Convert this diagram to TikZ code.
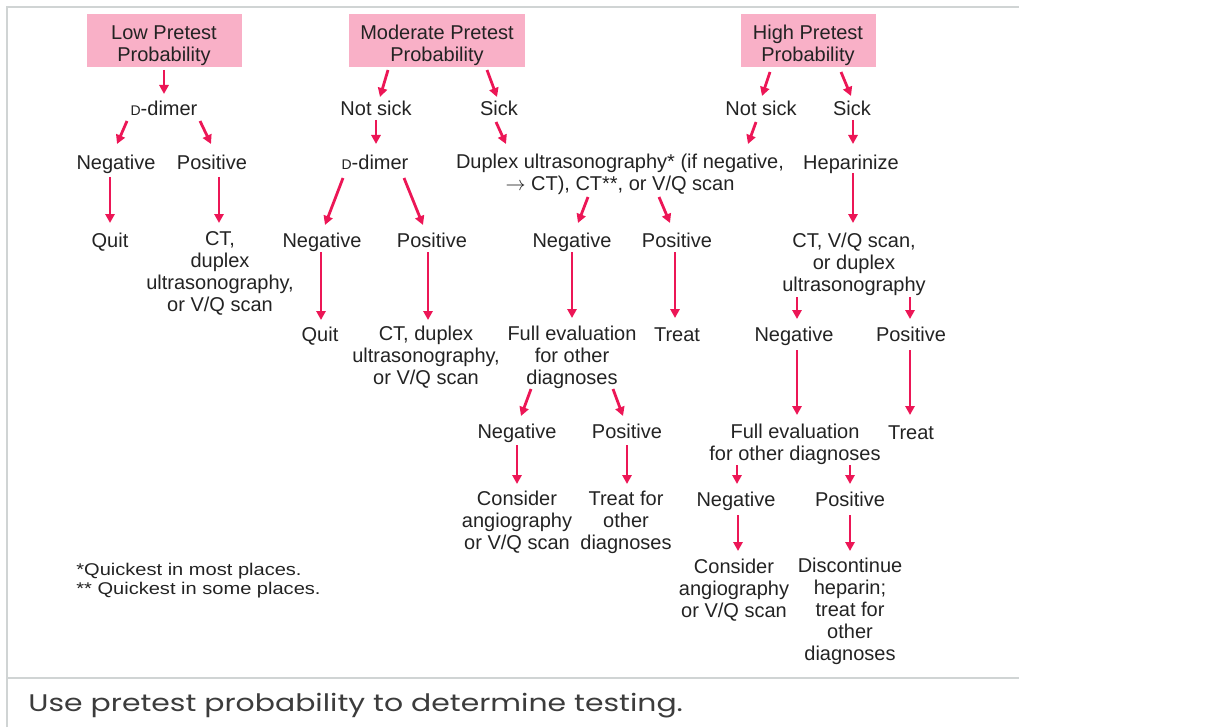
\documentclass[tikz,border=0pt]{standalone}
\usepackage{fontspec}
\setmainfont{Liberation Sans}
\newfontfamily\footfont[FakeStretch=1.18]{Liberation Sans}
\newfontfamily\capfont[FakeStretch=1.245]{Poppins}
\usepackage{tikz}
\usetikzlibrary{arrows.meta}
\usetikzlibrary{calc}
\usepackage{xcolor}
\definecolor{probpink}{RGB}{249,176,199}
\definecolor{arrred}{RGB}{236,22,86}
\definecolor{framegray}{RGB}{208,212,212}
\definecolor{txtgray}{RGB}{35,35,35}
\definecolor{capgray}{RGB}{60,60,60}
\newcommand{\smallD}{{\fontsize{7}{8}\selectfont D}}
\newcommand{\boxlift}{\rule{0pt}{11.8pt}}
\tikzset{arr/.style={line width=1.4pt, arrred, -{Triangle[length=4.5pt,width=4.6pt]}}}
\tikzset{txt/.style={align=center, inner sep=0pt, text=txtgray, font=\fontsize{10}{11}\selectfont}}
\tikzset{one/.style={txt, text height=7.2pt, text depth=0pt}}
\tikzset{prob/.style={txt, fill=probpink, minimum height=26.5pt}}

\begin{document}
\begin{tikzpicture}[x=0.5pt, y=-0.5pt]

	\useasboundingbox (0,0) rectangle (1213,727);
	\draw[framegray, line width=1pt] (7,727) -- (7,7) -- (1019,7);
	\draw[framegray, line width=1pt] (7,678) -- (1019,678);

	\node[prob, minimum width=77.5pt] (low) at (164,41) {\boxlift Low Pretest\\Probability};
	\node[prob, minimum width=88pt] (mod) at (437,41) {\boxlift Moderate Pretest\\Probability};
	\node[prob, minimum width=67.5pt] (high) at (808,41) {\boxlift High Pretest\\Probability};

	% low
	\node[one] (dd1) at (164,108) {\smallD-dimer};
	\node[one] (neg1) at (116,162) {Negative};
	\node[one] (pos1) at (212,162) {Positive};
	\node[one] (quit1) at (110,240) {Quit};
	\node[txt] (ct1) at (220,273) {CT,\\duplex\\ultrasonography,\\or V/Q scan};

	\draw[arr] ($(low)+(0,29)$) -- ($(dd1)+(0,-14)$);
	\draw[arr] ($(dd1)+(-37,13)$) -- ($(neg1)+(1,-18)$);
	\draw[arr] ($(dd1)+(36,13)$) -- ($(pos1)+(-1,-18)$);
	\draw[arr] ($(neg1)+(-6,15)$) -- ($(quit1)+(0,-17)$);
	\draw[arr] ($(pos1)+(7,15)$) -- ($(ct1)+(-1,-50)$);

	% moderate
	\node[one] (ns2) at (376,108) {Not sick};
	\node[one] (sick2) at (499,108) {Sick};
	\node[one] (dd2) at (375,162) {\smallD-dimer};
	\node[one] (neg2) at (322,240) {Negative};
	\node[one] (pos2) at (432,240) {Positive};
	\node[one] (quit2) at (320,334) {Quit};
	\node[txt] (ct2) at (426,357) {CT, duplex\\ultrasonography,\\or V/Q scan};
	\node[txt] (dup) at (620,174) {Duplex ultrasonography* (if negative,\\$\rightarrow$ CT), CT**, or V/Q scan};
	\node[one] (neg3) at (572,240) {Negative};
	\node[one] (pos3) at (677,240) {Positive};
	\node[txt] (full3) at (572,357) {Full evaluation\\for other\\diagnoses};
	\node[one] (treat3) at (677,334) {Treat};
	\node[one] (neg4) at (517,431) {Negative};
	\node[one] (pos4) at (627,431) {Positive};
	\node[txt] (cons4) at (517,522) {Consider\\angiography\\or V/Q scan};
	\node[txt] (tr4) at (626,522) {Treat for\\other\\diagnoses};

	\draw[arr] ($(mod)+(-49,29)$) -- ($(ns2)+(4,-11)$);
	\draw[arr] ($(mod)+(50,29)$) -- ($(sick2)+(-2,-11)$);
	\draw[arr] ($(ns2)+(0,12)$) -- ($(dd2)+(1,-18)$);
	\draw[arr] ($(dd2)+(-32,16)$) -- ($(neg2)+(3,-15)$);
	\draw[arr] ($(dd2)+(29,16)$) -- ($(pos2)+(-9,-15)$);
	\draw[arr] ($(neg2)+(-1,12)$) -- ($(quit2)+(1,-14)$);
	\draw[arr] ($(pos2)+(-4,12)$) -- ($(ct2)+(2,-37)$);
	\draw[arr] ($(sick2)+(-3,14)$) -- ($(dup)+(-114,-30)$);
	\draw[arr] ($(dup)+(-32,23)$) -- ($(neg3)+(6,-17)$);
	\draw[arr] ($(dup)+(39,23)$) -- ($(pos3)+(-7,-17)$);
	\draw[arr] ($(neg3)+(0,12)$) -- ($(full3)+(0,-39)$);
	\draw[arr] ($(pos3)+(-2,12)$) -- ($(treat3)+(-2,-16)$);
	\draw[arr] ($(full3)+(-41,32)$) -- ($(neg4)+(4,-15)$);
	\draw[arr] ($(full3)+(41,32)$) -- ($(pos4)+(-4,-15)$);
	\draw[arr] ($(neg4)+(0,14)$) -- ($(cons4)+(0,-38)$);
	\draw[arr] ($(pos4)+(0,14)$) -- ($(tr4)+(1,-38)$);

	% high
	\node[one] (ns5) at (761,108) {Not sick};
	\node[one] (sick5) at (852,108) {Sick};
	\node[one] (hep5) at (851,162) {Heparinize};
	\node[txt] (ct5) at (854,264) {CT, V/Q scan,\\or duplex\\ultrasonography};
	\node[one] (neg5) at (794,334) {Negative};
	\node[one] (pos5) at (911,334) {Positive};
	\node[txt] (full5) at (795,444) {Full evaluation\\for other diagnoses};
	\node[one] (treat5) at (911,432) {Treat};
	\node[one] (neg6) at (736,499) {Negative};
	\node[one] (pos6) at (850,499) {Positive};
	\node[txt] (cons6) at (734,590) {Consider\\angiography\\or V/Q scan};
	\node[txt] (disc6) at (850,611) {Discontinue\\heparin;\\treat for\\other\\diagnoses};

	\draw[arr] ($(high)+(-38,31)$) -- ($(ns5)+(1,-12)$);
	\draw[arr] ($(high)+(33,31)$) -- ($(sick5)+(-1,-12)$);
	\draw[arr] ($(ns5)+(-5,14)$) -- ($(dup)+(128,-30)$);
	\draw[arr] ($(sick5)+(1,12)$) -- ($(hep5)+(2,-18)$);
	\draw[arr] ($(hep5)+(2,11)$) -- ($(ct5)+(-1,-41)$);
	\draw[arr] ($(ct5)+(-57,33)$) -- ($(neg5)+(3,-15)$);
	\draw[arr] ($(ct5)+(56,33)$) -- ($(pos5)+(-1,-15)$);
	\draw[arr] ($(neg5)+(3,16)$) -- ($(full5)+(2,-29)$);
	\draw[arr] ($(pos5)+(-1,16)$) -- ($(treat5)+(-1,-17)$);
	\draw[arr] ($(full5)+(-58,21)$) -- ($(neg6)+(1,-15)$);
	\draw[arr] ($(full5)+(55,21)$) -- ($(pos6)+(0,-15)$);
	\draw[arr] ($(neg6)+(2,16)$) -- ($(cons6)+(4,-39)$);
	\draw[arr] ($(pos6)+(0,16)$) -- ($(disc6)+(0,-60)$);

	\node[txt, align=left, anchor=north west, font=\footfont\fontsize{8.5}{9.5}\selectfont] (foot) at (76,563) {*Quickest in most places.\\** Quickest in some places.};

	\node[anchor=base west, inner sep=0pt, text=capgray, font=\capfont\fontsize{12}{13}\selectfont] (cap) at (28,711) {Use pretest probability to determine testing.};
\end{tikzpicture}
\end{document}
